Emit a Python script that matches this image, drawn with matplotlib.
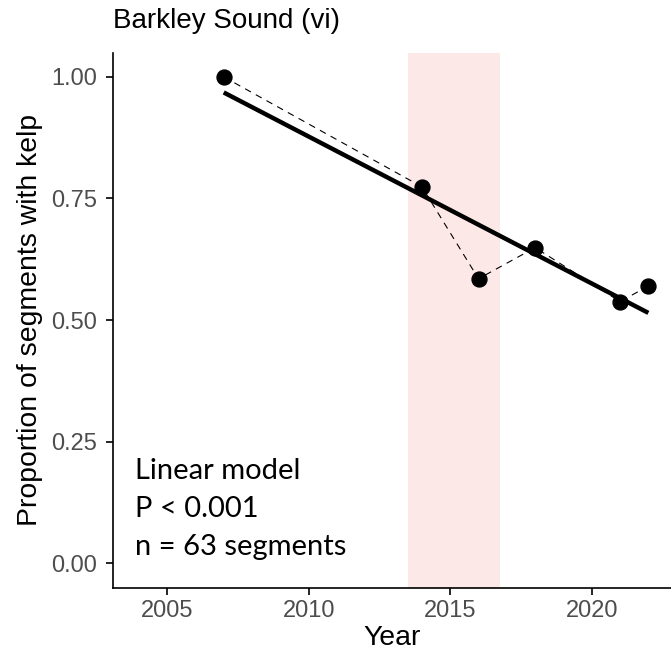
import numpy as np
import matplotlib
matplotlib.use('Agg')
import matplotlib.pyplot as plt

# Survey years and proportion of segments with kelp
years = [2007, 2014, 2016, 2018, 2021, 2022]
prop_kelp = [1.00, 0.774, 0.585, 0.649, 0.538, 0.570]

# Heatwave window (shaded)
heat_start, heat_end = 2013.5, 2016.75

title = 'Barkley Sound (vi)'
notes = ['Linear model', 'P < 0.001', 'n = 63 segments']
x_ticks = [2005, 2010, 2015, 2020]
y_ticks = [0.00, 0.25, 0.50, 0.75, 1.00]

plt.rcParams['font.family'] = ['Liberation Sans', 'DejaVu Sans']

fig = plt.figure(figsize=(6.71, 6.58), dpi=100)
ax = fig.add_axes([0.1689, 0.1070, 0.8311, 0.8131])

ax.axvspan(heat_start, heat_end, color='#FDE8E8', lw=0, zorder=0)

# Dashed line joining the yearly values
ax.plot(years, prop_kelp, color='black', lw=0.8, dashes=(6, 5), zorder=2)

# Linear fit
slope, icpt = np.polyfit(years, prop_kelp, 1)
xfit = np.array([min(years), max(years)])
ax.plot(xfit, icpt + slope * xfit, color='black', lw=3.2, zorder=3,
        solid_capstyle='butt')

ax.scatter(years, prop_kelp, s=115, color='black', zorder=4)

ax.set_xlim(2003.1, 2022.8)
ax.set_ylim(-0.05, 1.05)
ax.set_xticks(x_ticks)
ax.set_yticks(y_ticks)
ax.set_yticklabels([f'{v:.2f}' for v in y_ticks])

for s in ['top', 'right']:
    ax.spines[s].set_visible(False)
for s in ['left', 'bottom']:
    ax.spines[s].set_linewidth(1.2)
ax.tick_params(axis='both', length=4.8, width=1.2, labelsize=17,
               labelcolor='#4D4D4D')
ax.tick_params(axis='x', pad=4)
ax.tick_params(axis='y', pad=7)

ax.set_xlabel('Year', fontsize=20.4, labelpad=2)
ax.set_ylabel('Proportion of segments with kelp', fontsize=20.4, labelpad=6)
ax.set_title(title, fontsize=20, loc='left', pad=18)

for i, line in enumerate(notes):
    ax.text(2003.88, 0.1737 - i * 0.0784, line, fontsize=21,
            family=['Lato', 'DejaVu Sans'], va='baseline', ha='left')

fig.savefig('out.png', dpi=100)
